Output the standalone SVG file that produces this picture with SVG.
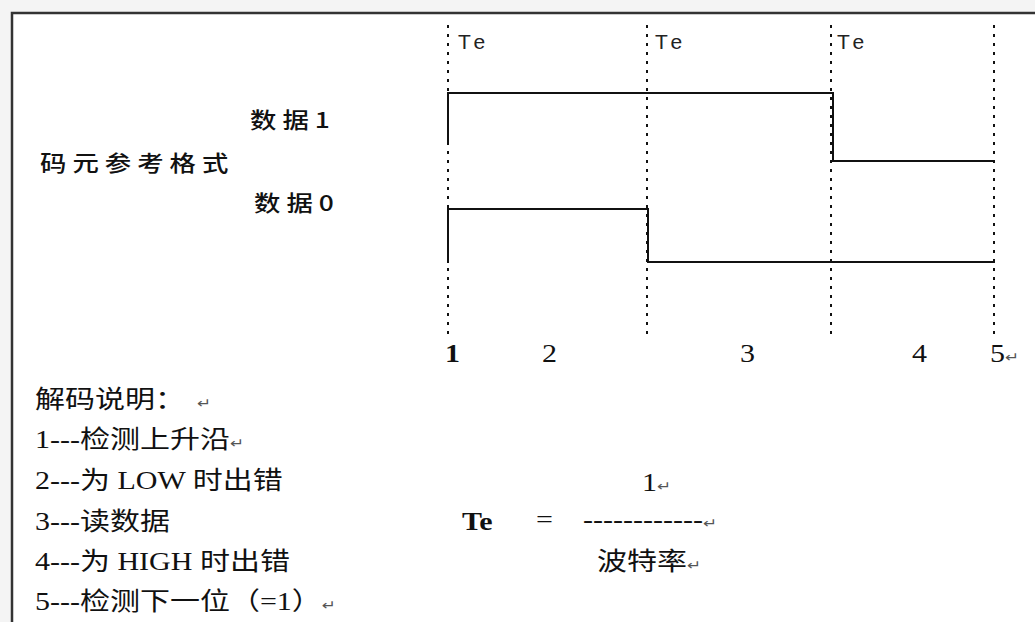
<svg xmlns="http://www.w3.org/2000/svg" width="1035" height="622" viewBox="0 0 1035 622">
<style>
.frame{fill:none;stroke:#333;stroke-width:2.5}
.grid{fill:none;stroke:#111;stroke-width:2;stroke-dasharray:3 6}
.wave{fill:none;stroke:#111;stroke-width:2}
.lbl{font-family:"Noto Sans CJK SC","Liberation Sans",sans-serif;font-size:22px;font-weight:500;fill:#111;letter-spacing:5px}
.te{font-family:"Liberation Sans","DejaVu Sans",sans-serif;font-size:21px;fill:#222;letter-spacing:5px}
.txt{font-family:"Liberation Serif","Noto Sans CJK SC",serif;font-size:25px;fill:#111}
.num{font-family:"Liberation Serif",serif;font-size:25px;fill:#111}
.ret{font-family:"DejaVu Sans",sans-serif;font-size:14px;fill:#555;letter-spacing:0}
</style>
<rect x="0" y="0" width="1035" height="622" fill="#f4f4f4"/>
<rect x="12" y="13" width="1030" height="615" fill="#ffffff"/>
<g id="frame">
<path class="frame" d="M12,622 V13 H1035"/>
</g>
<g id="connectors">
<line class="grid" x1="448" y1="25" x2="448" y2="336"/>
<line class="grid" x1="647" y1="25" x2="647" y2="336"/>
<line class="grid" x1="831" y1="25" x2="831" y2="336"/>
<line class="grid" x1="994" y1="25" x2="994" y2="336"/>
</g>
<g id="wave-data1">
<path class="wave" d="M448,145 V93 H833 V161 H995"/>
</g>
<g id="wave-data0">
<path class="wave" d="M448,263 V209 H648 V262 H995"/>
</g>
<g id="te-labels">
<text class="te" x="458" y="49">Te</text>
<text class="te" x="655" y="49">Te</text>
<text class="te" x="837" y="49">Te</text>
</g>
<g id="format-labels">
<text class="lbl" transform="translate(250,128) scale(1.2,1)">数据<tspan letter-spacing="0">1</tspan></text>
<text class="lbl" transform="translate(40,171) scale(1.2,1)">码元参考格式</text>
<text class="lbl" transform="translate(254,211) scale(1.2,1)">数据<tspan letter-spacing="0">0</tspan></text>
</g>
<g id="step-numbers">
<text class="num" font-weight="bold" transform="translate(445,362) scale(1.2,1)">1</text>
<text class="num" transform="translate(542,362) scale(1.2,1)">2</text>
<text class="num" transform="translate(740,362) scale(1.2,1)">3</text>
<text class="num" transform="translate(912,362) scale(1.2,1)">4</text>
<text class="num" transform="translate(990,362) scale(1.2,1)">5<tspan class="ret">↵</tspan></text>
</g>
<g id="decode-notes">
<text class="txt" transform="translate(35,408) scale(1.2,1)">解码说明：<tspan class="ret" dx="10">↵</tspan></text>
<text class="txt" transform="translate(35,448) scale(1.2,1)">1---检测上升沿<tspan class="ret">↵</tspan></text>
<text class="txt" transform="translate(35,489) scale(1.2,1)">2---为 LOW 时出错</text>
<text class="txt" transform="translate(35,530) scale(1.2,1)">3---读数据</text>
<text class="txt" transform="translate(35,570) scale(1.2,1)">4---为 HIGH 时出错</text>
<text class="txt" transform="translate(35,610) scale(1.2,1)">5---检测下一位（=1）<tspan class="ret">↵</tspan></text>
</g>
<g id="formula">
<text class="txt" font-weight="bold" transform="translate(462,530) scale(1.2,1)">Te</text>
<text class="txt" transform="translate(536,528) scale(1.2,1)">=</text>
<text class="txt" transform="translate(583,528) scale(1.2,1)">------------<tspan class="ret">↵</tspan></text>
<text class="txt" transform="translate(642,491) scale(1.2,1)">1<tspan class="ret">↵</tspan></text>
<text class="txt" transform="translate(597,570) scale(1.2,1)">波特率<tspan class="ret">↵</tspan></text>
</g>
</svg>
